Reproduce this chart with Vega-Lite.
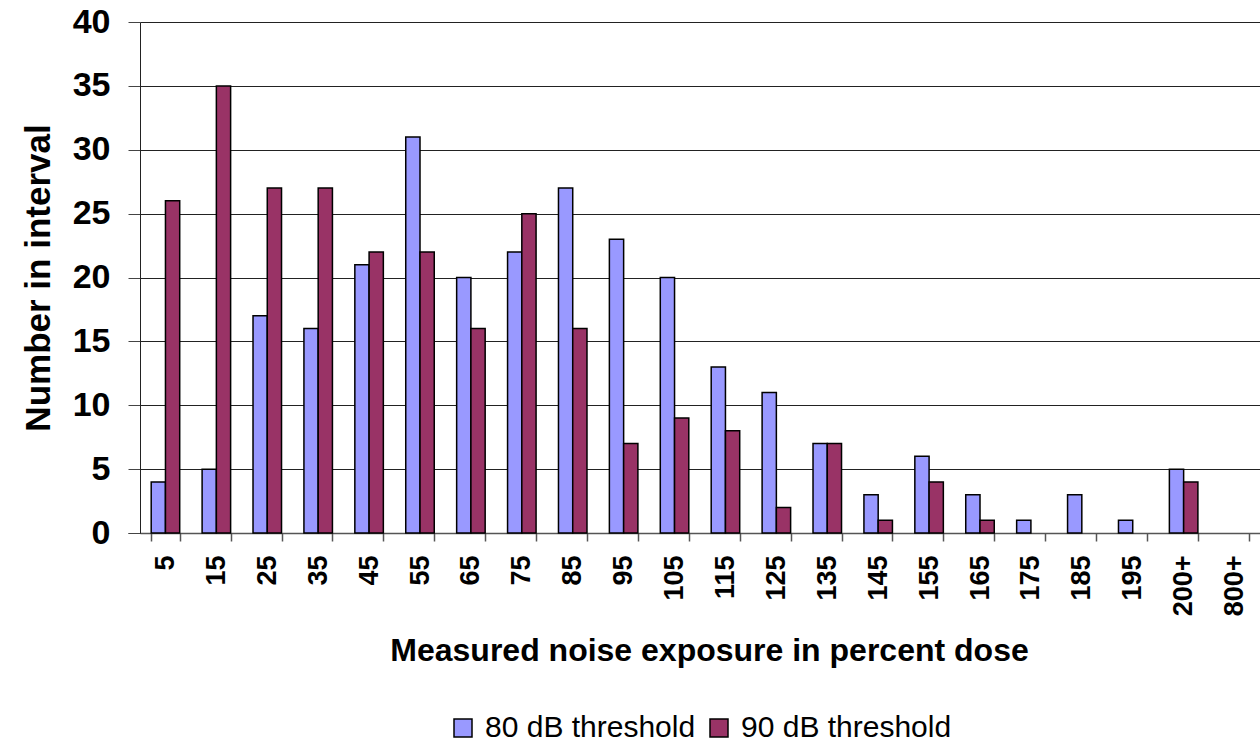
{
  "$schema": "https://vega.github.io/schema/vega-lite/v6.json",
  "width": 1120,
  "height": 511,
  "autosize": {"type": "none"},
  "padding": {"left": 140, "top": 22, "right": 0, "bottom": 214},
  "background": "white",
  "config": {
    "font": "Liberation Sans",
    "view": {"stroke": null},
    "axis": {"tickBand": "extent"}
  },
  "data": {
    "values": [
      {"dose": "5", "series": "80 dB threshold", "count": 4},
      {"dose": "5", "series": "90 dB threshold", "count": 26},
      {"dose": "15", "series": "80 dB threshold", "count": 5},
      {"dose": "15", "series": "90 dB threshold", "count": 35},
      {"dose": "25", "series": "80 dB threshold", "count": 17},
      {"dose": "25", "series": "90 dB threshold", "count": 27},
      {"dose": "35", "series": "80 dB threshold", "count": 16},
      {"dose": "35", "series": "90 dB threshold", "count": 27},
      {"dose": "45", "series": "80 dB threshold", "count": 21},
      {"dose": "45", "series": "90 dB threshold", "count": 22},
      {"dose": "55", "series": "80 dB threshold", "count": 31},
      {"dose": "55", "series": "90 dB threshold", "count": 22},
      {"dose": "65", "series": "80 dB threshold", "count": 20},
      {"dose": "65", "series": "90 dB threshold", "count": 16},
      {"dose": "75", "series": "80 dB threshold", "count": 22},
      {"dose": "75", "series": "90 dB threshold", "count": 25},
      {"dose": "85", "series": "80 dB threshold", "count": 27},
      {"dose": "85", "series": "90 dB threshold", "count": 16},
      {"dose": "95", "series": "80 dB threshold", "count": 23},
      {"dose": "95", "series": "90 dB threshold", "count": 7},
      {"dose": "105", "series": "80 dB threshold", "count": 20},
      {"dose": "105", "series": "90 dB threshold", "count": 9},
      {"dose": "115", "series": "80 dB threshold", "count": 13},
      {"dose": "115", "series": "90 dB threshold", "count": 8},
      {"dose": "125", "series": "80 dB threshold", "count": 11},
      {"dose": "125", "series": "90 dB threshold", "count": 2},
      {"dose": "135", "series": "80 dB threshold", "count": 7},
      {"dose": "135", "series": "90 dB threshold", "count": 7},
      {"dose": "145", "series": "80 dB threshold", "count": 3},
      {"dose": "145", "series": "90 dB threshold", "count": 1},
      {"dose": "155", "series": "80 dB threshold", "count": 6},
      {"dose": "155", "series": "90 dB threshold", "count": 4},
      {"dose": "165", "series": "80 dB threshold", "count": 3},
      {"dose": "165", "series": "90 dB threshold", "count": 1},
      {"dose": "175", "series": "80 dB threshold", "count": 1},
      {"dose": "185", "series": "80 dB threshold", "count": 3},
      {"dose": "195", "series": "80 dB threshold", "count": 1},
      {"dose": "200+", "series": "80 dB threshold", "count": 5},
      {"dose": "200+", "series": "90 dB threshold", "count": 4}
    ]
  },
  "mark": {"type": "bar", "stroke": "black", "strokeWidth": 1.5},
  "encoding": {
    "x": {
      "field": "dose",
      "type": "nominal",
      "scale": {
        "domain": ["5","15","25","35","45","55","65","75","85","95","105","115","125","135","145","155","165","175","185","195","200+","800+"],
        "paddingInner": 0.44,
        "paddingOuter": 0.22
      },
      "axis": {
        "title": "Measured noise exposure in percent dose",
        "titleFont": "Liberation Sans",
        "titleFontSize": 32,
        "titleFontWeight": "bold",
        "titleColor": "black",
        "titlePadding": 20,
        "titleX": 569,
        "labelAngle": 270,
        "labelAlign": "right",
        "labelBaseline": "middle",
        "labelFontSize": 27,
        "labelFontWeight": "bold",
        "labelColor": "black",
        "labelPadding": 14,
        "domainColor": "#555",
        "domainWidth": 1.5,
        "tickColor": "#555",
        "tickSize": 8,
        "tickWidth": 1.5
      }
    },
    "xOffset": {
      "field": "series",
      "type": "nominal",
      "scale": {"domain": ["80 dB threshold", "90 dB threshold"], "paddingInner": 0, "paddingOuter": 0}
    },
    "y": {
      "field": "count",
      "type": "quantitative",
      "scale": {"domain": [0, 40]},
      "axis": {
        "title": "Number in interval",
        "titleFont": "Liberation Sans",
        "titleFontSize": 35,
        "titleFontWeight": "bold",
        "titleColor": "black",
        "titlePadding": 16,
        "values": [0,5,10,15,20,25,30,35,40],
        "labelFontSize": 34,
        "labelFontWeight": "bold",
        "labelColor": "black",
        "labelPadding": 18,
        "tickSize": 12,
        "tickColor": "#444",
        "domainColor": "#222",
        "gridColor": "#222",
        "gridWidth": 1
      }
    },
    "color": {
      "field": "series",
      "type": "nominal",
      "scale": {"domain": ["80 dB threshold", "90 dB threshold"], "range": ["#9999FF", "#993366"]},
      "legend": {
        "title": null,
        "orient": "none",
        "legendX": 308,
        "legendY": 691,
        "direction": "horizontal",
        "symbolType": "square",
        "symbolSize": 324,
        "symbolStrokeColor": "black",
        "symbolStrokeWidth": 1.5,
        "labelFontSize": 30,
        "labelColor": "black",
        "labelFont": "Liberation Sans",
        "labelLimit": 400,
        "columnPadding": 8,
        "labelOffset": 7
      }
    }
  }
}
